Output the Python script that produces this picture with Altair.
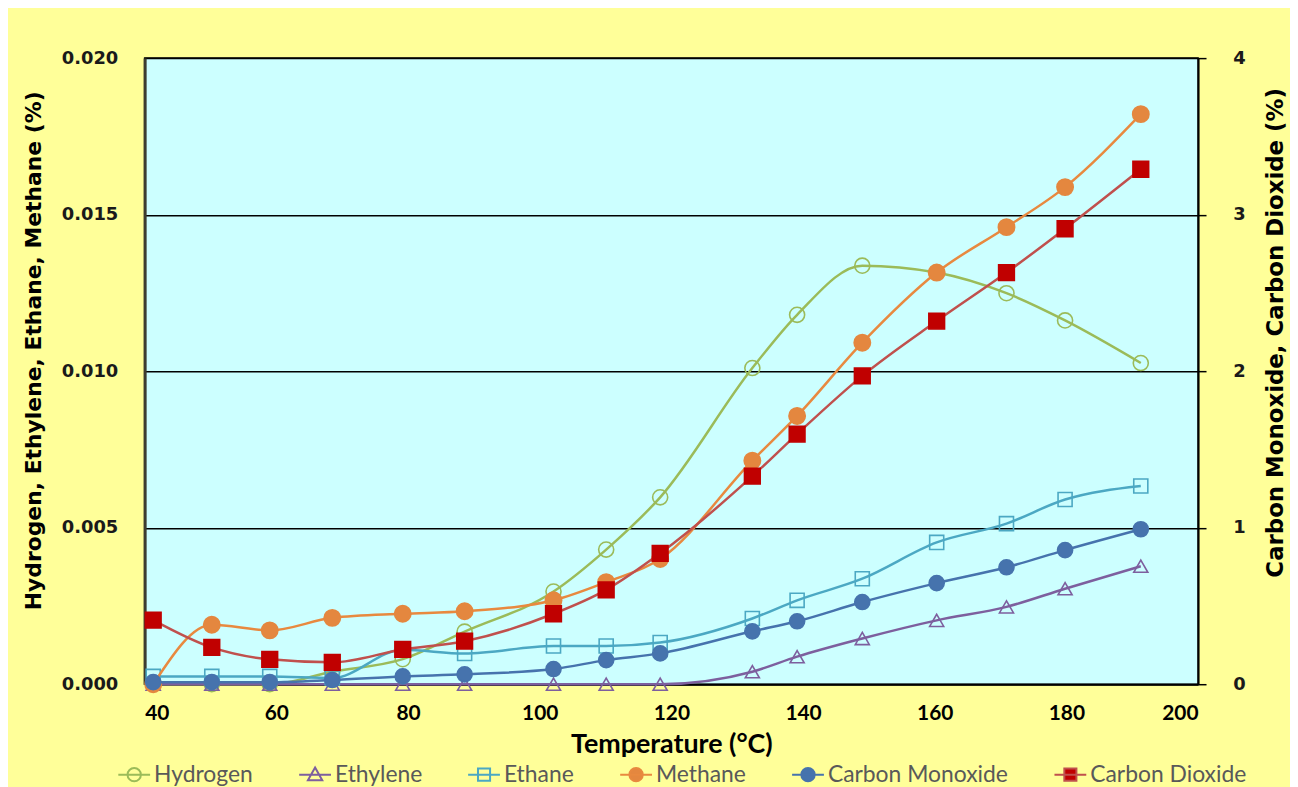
import altair as alt
import pandas as pd

# ---- data ----
temperature = [41.3, 50.2, 59.0, 68.5, 79.2, 88.6, 102.1, 110.1, 118.3, 132.3,
               139.1, 149.0, 160.3, 170.9, 179.8, 191.3]
hydrogen = [0.0, 0.0, 0.0, 0.0004, 0.0008, 0.00168, 0.00296, 0.0043, 0.00597, 0.0101,
            0.0118, 0.01337, 0.01315, 0.01249, 0.01162, 0.01026]
ethylene = [0.0, 0.0, 0.0, 0.0, 0.0, 0.0, 0.0, 0.0, 0.0, 0.0004,
            0.00088, 0.00146, 0.00204, 0.00247, 0.00305, 0.00377]
ethane = [0.00025, 0.00025, 0.00025, 0.0002, 0.0011, 0.00098, 0.00122, 0.00122, 0.00133, 0.0021,
          0.00268, 0.00337, 0.00453, 0.00513, 0.0059, 0.00633]
methane = [0.0, 0.0019, 0.00172, 0.00212, 0.00225, 0.00233, 0.00268, 0.00326, 0.004, 0.00714,
           0.00857, 0.01091, 0.01315, 0.0146, 0.01588, 0.01821]
carbon_monoxide = [0.013, 0.013, 0.013, 0.027, 0.05, 0.063, 0.097, 0.154, 0.197, 0.338,
                   0.402, 0.525, 0.646, 0.747, 0.857, 0.99]
carbon_dioxide = [0.41, 0.235, 0.159, 0.14, 0.222, 0.275, 0.45, 0.603, 0.836, 1.329,
                  1.598, 1.97, 2.32, 2.63, 2.91, 3.29]

series_names = ["Hydrogen", "Ethylene", "Ethane", "Methane", "Carbon Monoxide", "Carbon Dioxide"]
series_values = [hydrogen, ethylene, ethane, methane, carbon_monoxide, carbon_dioxide]
series_side = ["left", "left", "left", "left", "right", "right"]

left_ticks = [0, 0.005, 0.010, 0.015, 0.020]
right_ticks = [0, 1, 2, 3, 4]
x_ticks = [40, 60, 80, 100, 120, 140, 160, 180, 200]

# ---- styles ----
line_colors = ["#9BBB59", "#7D5F9E", "#4BA8C3", "#E8893F", "#4673AD", "#C0504D"]
marker_strokes = ["#9BBB59", "#7D5F9E", "#4BA8C3", "#E4873F", "#4673AD", "#C00000"]
marker_fills = ["transparent", "transparent", "transparent", "#E4873F", "#4673AD", "#C00000"]
marker_shapes = ["circle", "triangle-up", "square", "circle", "circle", "square"]
marker_filled = [False, False, False, True, True, True]
marker_sizes = [230, 200, 200, 270, 230, 250]

LINE = "M-1,0L1,0"
CIRC = "M-0.42,0A0.42,0.42,0,1,1,0.42,0A0.42,0.42,0,1,1,-0.42,0Z"
TRI = "M0,-0.45L0.45,0.35L-0.45,0.35Z"
SQ = "M-0.38,-0.38H0.38V0.38H-0.38Z"
legend_paths = [LINE + CIRC, LINE + TRI, LINE + SQ, LINE + CIRC, LINE + CIRC, LINE + SQ]

rows = []
for name, vals, side in zip(series_names, series_values, series_side):
    for t, v in zip(temperature, vals):
        rows.append({"temperature": t, "value": v, "series": name, "side": side})
df = pd.DataFrame(rows)

x_axis = alt.Axis(values=x_ticks, ticks=False, grid=False, domainColor="black", domainWidth=2,
                  labelFont="Lato", labelFontWeight="bold", labelFontSize=21, labelColor="black",
                  labelBaseline="middle", labelPadding=30,
                  title="Temperature (°C)", titleFont="Lato", titleFontSize=27, titleFontWeight="bold",
                  titleColor="black", titleBaseline="middle", titleY=61)
left_axis = alt.Axis(orient="left", values=left_ticks, format=".3f", grid=True, gridColor="black",
                     gridWidth=1.5, ticks=False, domainColor="#3d3d30", domainWidth=3,
                     labelFont="DejaVu Sans", labelFontWeight="bold", labelFontSize=18,
                     labelColor="#1a1a1a", labelPadding=27,
                     title="Hydrogen, Ethylene, Ethane, Methane (%)", titleFont="DejaVu Sans",
                     titleFontSize=22, titleFontWeight="bold", titleColor="black",
                     titleAngle=270, titleBaseline="middle", titleAlign="center",
                     titleX=-112, titleY=294)
right_axis = alt.Axis(orient="right", values=right_ticks, format="d", grid=False, ticks=True,
                      tickSize=8, tickColor="black", tickWidth=1.5, domainColor="black",
                      domainWidth=2, labelFont="DejaVu Sans", labelFontWeight="bold",
                      labelFontSize=18, labelColor="#1a1a1a", labelPadding=27,
                      title="Carbon Monoxide, Carbon Dioxide (%)", titleFont="DejaVu Sans",
                      titleFontSize=23, titleFontWeight="bold", titleColor="black",
                      titleAngle=270, titleBaseline="middle", titleAlign="center",
                      titleX=78, titleY=276)

x_scale = alt.Scale(domain=[40, 200], nice=False, zero=False)
left_layers, right_layers = [], []
for i, name in enumerate(series_names):
    side = series_side[i]
    sub = alt.Chart(df).transform_filter(alt.datum.series == name)
    dom = [0, 0.02] if side == "left" else [0, 4]
    ax = left_axis if side == "left" else right_axis
    enc_x = alt.X("temperature:Q", scale=x_scale, axis=x_axis, title="Temperature (°C)")
    enc_y = alt.Y("value:Q", scale=alt.Scale(domain=dom, nice=False, zero=True), axis=ax,
                  title=ax.title)
    ln = sub.mark_line(color=line_colors[i], strokeWidth=2.5, interpolate="monotone").encode(
        x=enc_x, y=enc_y)
    mk_kwargs = dict(shape=marker_shapes[i], size=marker_sizes[i], filled=marker_filled[i],
                     opacity=1, strokeWidth=1.6, stroke=marker_strokes[i])
    if marker_filled[i]:
        mk_kwargs["fill"] = marker_fills[i]
    pt = sub.mark_point(**mk_kwargs).encode(x=enc_x, y=enc_y)
    if side == "left":
        left_layers += [ln, pt]
    else:
        right_layers += [ln, pt]

legend = alt.Legend(title=None, orient="none", legendX=-27.5, legendY=704, direction="horizontal",
                    columns=6, columnPadding=42, labelFont="Lato", labelFontSize=23,
                    labelColor="#595959", labelOffset=3, labelLimit=400, symbolSize=1024,
                    symbolStrokeWidth=2, symbolOpacity=1)
legend_df = pd.DataFrame({"series": series_names})
legend_layer = alt.Chart(legend_df).transform_filter("false").mark_point(
    opacity=1, size=1024, strokeWidth=2).encode(
    shape=alt.Shape("series:N", scale=alt.Scale(domain=series_names, range=legend_paths), legend=legend),
    stroke=alt.Stroke("series:N", scale=alt.Scale(domain=series_names, range=line_colors), legend=legend),
    fill=alt.Fill("series:N", scale=alt.Scale(domain=series_names, range=marker_fills), legend=legend),
)

chart = alt.layer(alt.layer(*left_layers), alt.layer(*right_layers), legend_layer).resolve_scale(
    y="independent"
).properties(
    width=1060, height=630,
    autosize=alt.AutoSizeParams(type="none"),
    padding={"left": 137.5, "top": 48, "right": 92.5, "bottom": 101},
    background="#FFFF99",
    view=alt.ViewBackground(fill="#CCFFFF", stroke="black", strokeWidth=1.5),
)

chart.save("out.html", embed_options={"renderer": "svg", "actions": False})
